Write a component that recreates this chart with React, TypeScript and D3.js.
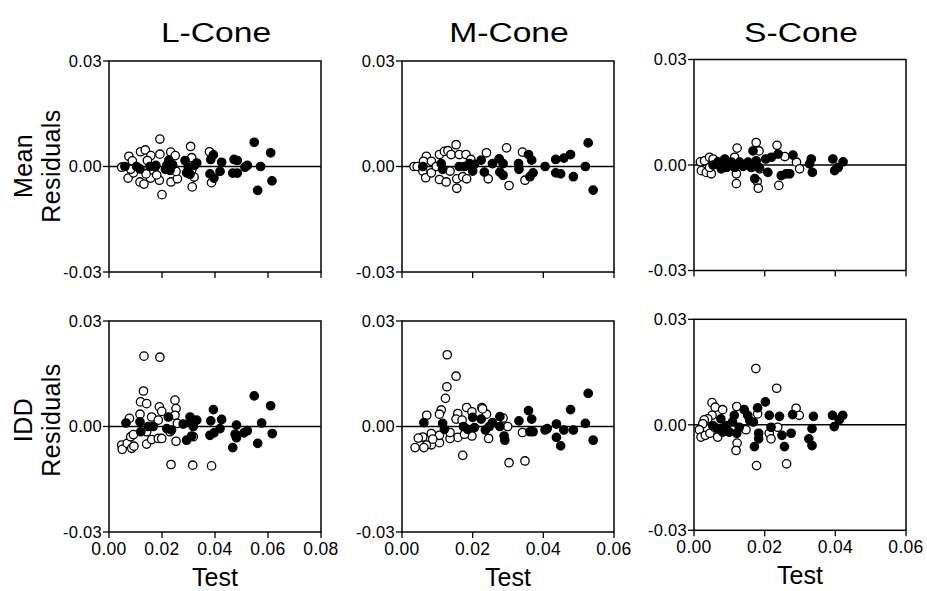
import React from "react";
import * as d3 from "d3";

type Pt = [number, number];

// ---- Data (x = Test, y = residual) ----
const lMeanOpen: Pt[] = [
  [0.0048, -0.0002], [0.0075, 0.0029], [0.0088, 0.0016], [0.0072, -0.0033], [0.0092, -0.0018],
  [0.0082, -0.0008], [0.0117, -0.0044], [0.0132, -0.005], [0.0119, 0.0042], [0.0137, 0.0047],
  [0.0158, 0.0031], [0.0157, -0.0033], [0.014, -0.0021], [0.0145, 0.0017], [0.0192, 0.0078],
  [0.0192, 0.0035], [0.019, -0.0039], [0.02, -0.008], [0.0177, 0.0003], [0.0233, 0.0041],
  [0.025, 0.0031], [0.0234, -0.0044], [0.0258, -0.0035], [0.0253, -0.0014], [0.0308, 0.0057],
  [0.0314, -0.0058], [0.0321, -0.003], [0.0312, 0.0025], [0.0379, 0.0042], [0.0387, -0.0046],
  [0.0312, -0.0011], [0.018, -0.0024],
];
const lMeanFilled: Pt[] = [
  [0.006, 0], [0.0104, 0], [0.0117, -0.0007], [0.0155, 0], [0.0174, 0], [0.0218, 0.0003],
  [0.0226, 0.0018], [0.023, -0.0011], [0.0213, -0.0008], [0.024, 0.0005], [0.0287, 0.0017],
  [0.0293, -0.0018], [0.0306, -0.0022], [0.0323, 0.0003], [0.0331, 0.001], [0.0299, -0.0002],
  [0.0394, 0.0033], [0.0384, 0.002], [0.0381, -0.0021], [0.0396, -0.0033], [0.0425, 0.0012],
  [0.0419, -0.0014], [0.0472, 0.002], [0.0484, 0.0017], [0.0467, -0.0019], [0.0484, -0.0019],
  [0.0513, -0.0002], [0.0522, 0.0003], [0.0548, 0.0069], [0.0561, -0.0068], [0.0572, 0],
  [0.061, 0.0039], [0.0615, -0.0041],
];
const lIddOpen: Pt[] = [
  [0.0132, 0.02], [0.0192, 0.0197], [0.013, 0.0101], [0.0119, 0.007], [0.0142, 0.0065],
  [0.0117, 0.0035], [0.0161, 0.0027], [0.019, 0.0056], [0.0199, 0.0043], [0.0186, 0.0018],
  [0.0249, 0.0075], [0.0253, 0.0051], [0.0249, 0.0032], [0.0077, 0.0023], [0.0048, -0.0053],
  [0.005, -0.0065], [0.0069, -0.0048], [0.0086, -0.0062], [0.0094, -0.0056], [0.0082, -0.0029],
  [0.0092, -0.0023], [0.0142, -0.005], [0.0161, -0.0037], [0.0186, -0.0034], [0.0199, -0.0034],
  [0.0142, -0.0015], [0.0253, -0.0042], [0.0234, -0.0108], [0.0316, -0.011], [0.0387, -0.0112],
  [0.0258, 0.0009], [0.0318, -0.0029], [0.023, -0.0015],
];
const lIddFilled: Pt[] = [
  [0.0064, 0.001], [0.0117, 0.0013], [0.012, -0.0015], [0.0148, 0], [0.0167, 0], [0.0224, 0.0027],
  [0.0218, -0.0006], [0.0236, -0.001], [0.028, 0.0007], [0.0306, 0.0027], [0.0308, 0.0013],
  [0.0293, -0.0039], [0.0312, -0.0027], [0.0331, 0.0018], [0.0318, 0], [0.0394, 0.0048],
  [0.0384, 0.0016], [0.0381, -0.0025], [0.0396, -0.0018], [0.0425, 0.002], [0.0419, -0.0006],
  [0.0481, 0.0004], [0.0476, -0.0022], [0.0481, -0.0032], [0.0467, -0.006], [0.0509, -0.0018],
  [0.0522, -0.0012], [0.0548, 0.0087], [0.0561, -0.0048], [0.0576, 0.001], [0.061, 0.0059],
  [0.0616, -0.002],
];
const mMeanOpen: Pt[] = [
  [0.0034, 0], [0.0043, 0], [0.0069, 0.0029], [0.0061, 0.0015], [0.0059, -0.0013], [0.0067, -0.0032],
  [0.0083, -0.0018], [0.0083, 0.0015], [0.0106, 0.0034], [0.012, 0.0043], [0.013, 0.0045],
  [0.0106, -0.0037], [0.0125, -0.0044], [0.0136, -0.0013], [0.0139, 0.0034], [0.0153, 0.0062],
  [0.0162, 0.0034], [0.0181, 0.0034], [0.0155, -0.0035], [0.0155, -0.0062], [0.0172, -0.0029],
  [0.0183, -0.0035], [0.0195, 0.002], [0.0239, 0.0039], [0.0244, -0.0035], [0.0296, 0.0053],
  [0.0303, -0.0054], [0.0341, 0.0041], [0.0348, -0.0039], [0.0097, 0],
];
const mMeanFilled: Pt[] = [
  [0.0059, 0], [0.0111, 0.0008], [0.0115, -0.0008], [0.0162, 0], [0.0177, 0], [0.0191, 0.0008],
  [0.02, -0.0013], [0.0205, 0.0006], [0.0224, 0.0018], [0.0233, -0.0016], [0.0256, 0.0008],
  [0.0275, 0.0022], [0.0277, -0.0016], [0.0286, -0.0025], [0.0286, 0.0008], [0.033, 0.0008],
  [0.0331, -0.0008], [0.0358, 0.0034], [0.0367, 0.0018], [0.0371, -0.0018], [0.0362, -0.0029],
  [0.0405, 0], [0.0435, 0.002], [0.0458, 0.0024], [0.0477, 0.0034], [0.0435, -0.0018],
  [0.0449, -0.0021], [0.0485, -0.0029], [0.0519, 0], [0.0527, 0.0067], [0.0541, -0.0067],
];
const mIddOpen: Pt[] = [
  [0.0128, 0.0204], [0.0153, 0.0143], [0.0127, 0.0113], [0.0123, 0.008], [0.0111, 0.0047],
  [0.0106, 0.0035], [0.007, 0.0032], [0.0158, 0.0037], [0.0153, 0.0021], [0.017, 0.0018],
  [0.0183, 0.0054], [0.0198, 0.0042], [0.0226, 0.0054], [0.0239, 0.0035], [0.0228, 0.005],
  [0.0286, 0.0024], [0.0299, 0], [0.0172, -0.0082], [0.0303, -0.0103], [0.0348, -0.0098],
  [0.0341, -0.0017], [0.0245, -0.0034], [0.0198, -0.0027], [0.0158, -0.0031], [0.0136, -0.0034],
  [0.0136, -0.0017], [0.0106, -0.0046], [0.0106, -0.0025], [0.0083, -0.0052], [0.0083, -0.002],
  [0.0069, -0.0053], [0.0062, -0.006], [0.0059, -0.003], [0.0046, -0.0033], [0.0037, -0.006],
  [0.0087, -0.0036], [0.0177, -0.0022],
];
const mIddFilled: Pt[] = [
  [0.0062, 0.0011], [0.0115, 0.0009], [0.012, -0.0008], [0.0174, 0], [0.0186, -0.0008], [0.02, 0.0026],
  [0.0205, -0.0003], [0.0224, 0.0021], [0.0236, -0.001], [0.0256, 0.0011], [0.0247, 0],
  [0.0277, 0.0028], [0.0277, 0], [0.0289, -0.0027], [0.0291, -0.0039], [0.0331, 0.0016],
  [0.0358, 0.0045], [0.0367, 0.0021], [0.0362, -0.0015], [0.0371, -0.0015], [0.0405, -0.001],
  [0.0411, -0.0006], [0.0437, 0.0007], [0.0437, -0.0031], [0.0449, -0.0055], [0.0458, -0.001],
  [0.0477, 0.0048], [0.0485, -0.001], [0.0519, 0.0009], [0.0527, 0.0094], [0.0541, -0.0039],
];
const sMeanOpen: Pt[] = [
  [0.0018, 0.0009], [0.0021, -0.0016], [0.003, 0.0012], [0.0035, -0.0021], [0.0044, 0.0022],
  [0.0049, -0.0025], [0.0054, 0.0017], [0.0044, -0.0007], [0.0122, 0.0048], [0.012, -0.0053],
  [0.012, -0.0025], [0.0115, 0.0022], [0.0176, 0.0064], [0.0184, 0.004], [0.0179, -0.0047],
  [0.0182, -0.0066], [0.0235, 0.0056], [0.024, -0.0058], [0.0257, 0.0024], [0.029, 0.0008],
  [0.0299, -0.0011], [0.0186, -0.0011], [0.0092, 0],
];
const sMeanFilled: Pt[] = [
  [0.0054, 0], [0.0068, 0.0009], [0.0077, -0.0011], [0.0087, 0.0017], [0.0092, -0.0007],
  [0.0106, 0.0008], [0.0115, -0.0007], [0.0129, 0.0008], [0.0139, -0.0004], [0.0153, 0.0008],
  [0.0162, -0.0007], [0.0167, 0.004], [0.0172, -0.0039], [0.0176, 0.0012], [0.0184, -0.0007],
  [0.0203, 0.0017], [0.0219, 0.0022], [0.0209, -0.0021], [0.0238, 0.0031], [0.0247, -0.003],
  [0.0261, -0.0025], [0.0271, -0.0025], [0.028, 0.0028], [0.0332, 0.0017], [0.0327, 0.0003],
  [0.0335, -0.0021], [0.0393, 0.0017], [0.0398, -0.0016], [0.0408, -0.0007], [0.0422, 0.0009],
  [0.0073, 0],
];
const sIddOpen: Pt[] = [
  [0.0175, 0.016], [0.0234, 0.0104], [0.0289, 0.0047], [0.0298, 0.0027], [0.0051, 0.0063],
  [0.006, 0.005], [0.0081, 0.0043], [0.0051, 0.0027], [0.0039, 0.0017], [0.0029, 0.0014],
  [0.0025, 0.0003], [0.0015, -0.0014], [0.002, -0.0035], [0.0032, -0.003], [0.0045, -0.0024],
  [0.0067, -0.0035], [0.0121, 0.0052], [0.0122, -0.0052], [0.0119, -0.0073], [0.0147, -0.0014],
  [0.018, 0.0031], [0.0213, -0.0024], [0.0218, -0.004], [0.0237, -0.0007], [0.0177, -0.0116],
  [0.0262, -0.0111], [0.0058, -0.0007],
];
const sIddFilled: Pt[] = [
  [0.0053, -0.0002], [0.0067, -0.0011], [0.0076, 0.0017], [0.0081, -0.0021], [0.0091, -0.0002],
  [0.01, -0.0021], [0.0109, 0.0008], [0.0114, 0.0027], [0.0121, -0.0024], [0.0128, -0.0007],
  [0.0142, 0.0043], [0.0152, 0.0027], [0.0158, 0.0012], [0.0168, 0.0008], [0.018, 0.0048],
  [0.0202, 0.0065], [0.0183, -0.0024], [0.0183, -0.004], [0.0171, -0.0062], [0.0213, 0.0027],
  [0.0218, -0.0007], [0.0242, 0.0024], [0.0249, -0.003], [0.0256, -0.0062], [0.0275, -0.0024],
  [0.0279, 0.0029], [0.0325, -0.004], [0.0334, -0.0011], [0.0338, 0.0024], [0.0334, -0.0059],
  [0.0392, 0.0027], [0.0397, -0.0005], [0.0411, 0.0014], [0.0421, 0.0027],
];

const coneTitles = ["L-Cone", "M-Cone", "S-Cone"];
const rowLabels = [["Mean", "Residuals"], ["IDD", "Residuals"]];
const xMaxes = [0.08, 0.06, 0.06];
const xTicksL = [0, 0.02, 0.04, 0.06, 0.08];
const xTicksMS = [0, 0.02, 0.04, 0.06];
const yTicks = [0.03, 0, -0.03];
const xLabel = "Test";

const panelData: { open: Pt[]; filled: Pt[] }[][] = [
  [
    { open: lMeanOpen, filled: lMeanFilled },
    { open: mMeanOpen, filled: mMeanFilled },
    { open: sMeanOpen, filled: sMeanFilled },
  ],
  [
    { open: lIddOpen, filled: lIddFilled },
    { open: mIddOpen, filled: mIddFilled },
    { open: sIddOpen, filled: sIddFilled },
  ],
];

// ---- Layout ----
const W = 927;
const H = 591;
const PW = 212;
const PH = 211;
const lefts = [109, 402, 694];
const tops = [
  [61, 61, 59.5],
  [321, 321, 319.3],
];
const FONT = "'Liberation Sans', Arial, Helvetica, sans-serif";
const d3fmt = d3.format(".2f");
const fmt = (v: number) => d3fmt(v).replace("\u2212", "-");

function Panel({ row, col }: { row: number; col: number }) {
  const left = lefts[col];
  const top = tops[row][col];
  const x = d3.scaleLinear().domain([0, xMaxes[col]]).range([left, left + PW]);
  const y = d3.scaleLinear().domain([-0.03, 0.03]).range([top + PH, top]);
  const xt = col === 0 ? xTicksL : xTicksMS;
  const { open, filled } = panelData[row][col];
  const r = 4.2;
  return (
    <g>
      <line x1={left} x2={left + PW} y1={y(0)} y2={y(0)} stroke="#000" strokeWidth={1.5} />
      {open.map((d, i) => (
        <circle key={"o" + i} cx={x(d[0])} cy={y(d[1])} r={r} fill="#fff" stroke="#000" strokeWidth={1.3} />
      ))}
      {filled.map((d, i) => (
        <circle key={"f" + i} cx={x(d[0])} cy={y(d[1])} r={r} fill="#000" stroke="#000" strokeWidth={1.3} />
      ))}
      <rect x={left} y={top} width={PW} height={PH} fill="none" stroke="#000" strokeWidth={1.5} />
      {yTicks.map((t) => (
        <g key={"y" + t}>
          <line x1={left - 6} x2={left} y1={y(t)} y2={y(t)} stroke="#000" strokeWidth={1.3} />
          <text
            x={left - 7}
            y={y(t)}
            dy="0.36em"
            textAnchor="end"
            fontSize={16.5}
            fontFamily={FONT}
            letterSpacing={0.3}
          >
            {fmt(t)}
          </text>
        </g>
      ))}
      {xt.map((t) => (
        <g key={"x" + t}>
          <line x1={x(t)} x2={x(t)} y1={top + PH} y2={top + PH + 6} stroke="#000" strokeWidth={1.3} />
          {row === 1 && (
            <text
              x={x(t)}
              y={top + PH + 23}
              textAnchor="middle"
              fontSize={17.5}
              fontFamily={FONT}
              letterSpacing={0.3}
            >
              {fmt(t)}
            </text>
          )}
        </g>
      ))}
      {row === 0 && (
        <text
          transform={`translate(${left + PW / 2 + 1},42) scale(1.2,1)`}
          textAnchor="middle"
          fontSize={28}
          fontFamily={FONT}
        >
          {coneTitles[col]}
        </text>
      )}
      {row === 1 && (
        <text
          x={left + PW / 2}
          y={top + PH + 54}
          textAnchor="middle"
          fontSize={25}
          fontFamily={FONT}
        >
          {xLabel}
        </text>
      )}
    </g>
  );
}

export default function App() {
  const rowCenters = [166, 420];
  return (
    <svg
      width={W}
      height={H}
      viewBox={`0 0 ${W} ${H}`}
      style={{ position: "absolute", left: 0, top: 0, background: "#fff" }}
    >
      <rect x={0} y={0} width={W} height={H} fill="#fff" />
      {[0, 1].map((row) =>
        [0, 1, 2].map((col) => <Panel key={row + "-" + col} row={row} col={col} />)
      )}
      {rowLabels.map((lines, row) => (
        <g key={"rl" + row}>
          {lines.map((s, i) => (
            <text
              key={s}
              transform={`translate(${32 + i * 28},${rowCenters[row]}) rotate(-90)`}
              textAnchor="middle"
              fontSize={25}
              fontFamily={FONT}
              letterSpacing={0.4}
            >
              {s}
            </text>
          ))}
        </g>
      ))}
    </svg>
  );
}
